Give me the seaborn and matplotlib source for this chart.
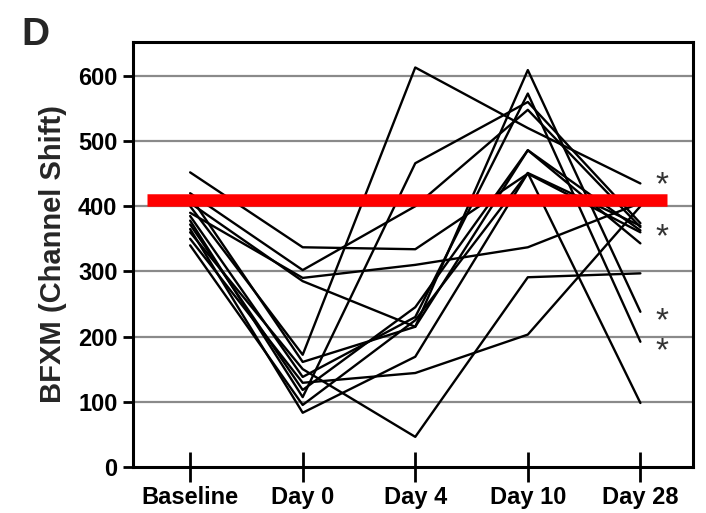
import pandas as pd
import matplotlib
matplotlib.use('Agg')
import matplotlib.pyplot as plt
import seaborn as sns

# Time points and per-subject BFXM values
timepoints = ['Baseline', 'Day 0', 'Day 4', 'Day 10', 'Day 28']
s1 = [452, 337, 334, 450, 360]
s2 = [420, 302, 400, 548, 368]
s3 = [405, 285, 215, 486, 343]
s4 = [390, 290, 310, 337, 405]
s5 = [400, 172, 613, 520, 435]
s6 = [378, 107, 466, 560, 374]
s7 = [365, 83, 169, 451, 370]
s8 = [360, 150, 46, 291, 297]
s9 = [350, 129, 144, 203, 400]
s10 = [415, 161, 215, 609, 238]
s11 = [385, 138, 230, 573, 192]
s12 = [372, 118, 245, 486, 363]
s13 = [340, 95, 225, 451, 98]
subjects = [s1, s2, s3, s4, s5, s6, s7, s8, s9, s10, s11, s12, s13]

threshold = 410
star_y = [432, 351, 222, 176]
yticks = [0, 100, 200, 300, 400, 500, 600]

# long form table for seaborn
rows = []
for i, s in enumerate(subjects):
    for j, v in enumerate(s):
        rows.append({'subject': i, 'pos': j, 'bfxm': v})
df = pd.DataFrame(rows)

sns.set_style('white')
plt.rcParams['font.family'] = ['Liberation Sans', 'DejaVu Sans']
plt.rcParams['font.weight'] = 'bold'

fig = plt.figure(figsize=(7.06, 5.13), dpi=100)
ax = fig.add_axes([0.188, 0.090, 0.794, 0.828])

# grid lines
for y in yticks[1:]:
    ax.axhline(y, color='#8a8a8a', lw=1.6, zorder=0)

sns.lineplot(data=df, x='pos', y='bfxm', units='subject', estimator=None,
             color='black', lw=1.7, ax=ax, legend=False, zorder=2)

# red reference line
ax.hlines(threshold, -0.38, 4.24, color='#ff0000', lw=9, zorder=3)

# asterisks
for y in star_y:
    ax.text(4.19, y, '*', fontsize=24, fontweight='normal', ha='center', va='center', color='#333333')

ax.set_xlim(-0.51, 4.47)
ax.set_ylim(0, 652)
ax.set_xticks(range(len(timepoints)))
ax.set_xticklabels(timepoints, fontsize=17, fontweight='bold')
ax.set_yticks(yticks)
ax.set_yticklabels([str(t) for t in yticks], fontsize=17, fontweight='bold')
ax.set_xlabel('')
ax.set_ylabel('BFXM (Channel Shift)', fontsize=21, fontweight='bold', labelpad=8)

for sp in ax.spines.values():
    sp.set_linewidth(2.2)
    sp.set_color('black')
    sp.set_visible(True)

ax.tick_params(axis='x', direction='inout', length=22, width=2, pad=3, colors='black')
ax.tick_params(axis='y', direction='out', length=7, width=2, pad=4, colors='black')
ax.tick_params(bottom=True, left=True)

fig.text(0.03, 0.912, 'D', fontsize=28, fontweight='bold')

fig.savefig('out.png', dpi=100)
